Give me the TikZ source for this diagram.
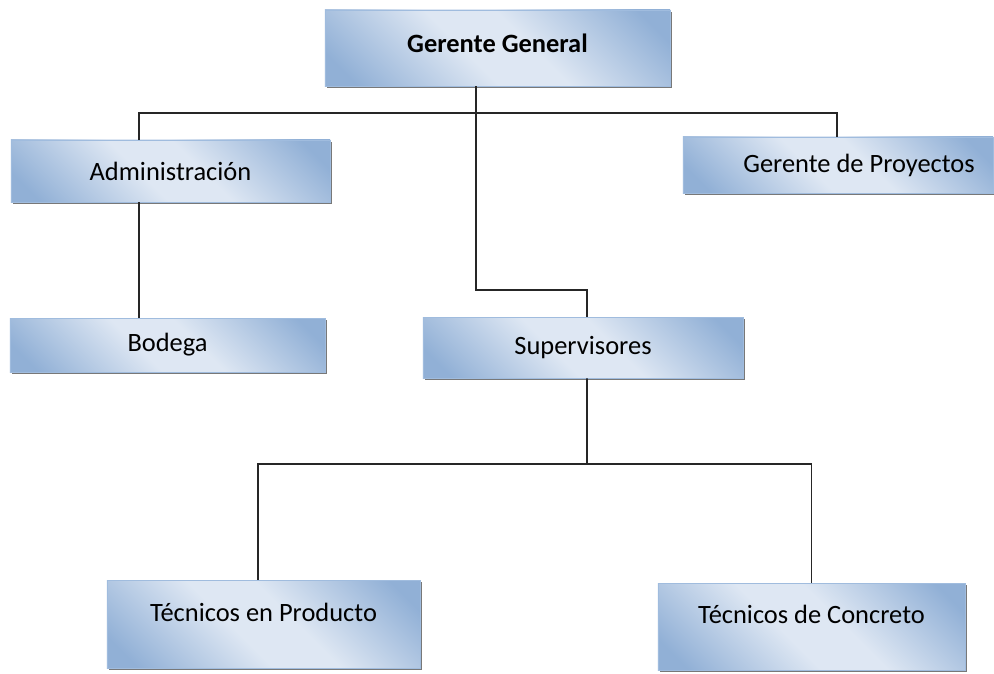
\documentclass[tikz,border=0pt]{standalone}
\usepackage{fontspec}
\setmainfont{Carlito}
\usepackage{tikz}
\usetikzlibrary{
    calc,
    positioning,
    shadows
}
\definecolor{boxdark}{RGB}{145,176,214}
\definecolor{boxlight}{RGB}{222,231,243}
\definecolor{boxline}{RGB}{160,188,222}
\definecolor{shadowgray}{RGB}{120,120,120}
\pgfdeclareverticalshading{unitshade}{100bp}{%
    color(0bp)=(boxdark); color(20bp)=(boxdark);
    color(44bp)=(boxlight); color(56bp)=(boxlight);
    color(80bp)=(boxdark); color(100bp)=(boxdark)}

\begin{document}
\begin{tikzpicture}[
    x=0.025cm, y=-0.025cm,
    unit/.style={draw=boxline, line width=0.6pt,
        shading=unitshade, shading angle=-45,
        drop shadow={shadow xshift=0.06cm, shadow yshift=-0.06cm,
            fill=shadowgray, opacity=1},
        font=\fontsize{18.8}{22}\selectfont, text=black,
        inner sep=0pt},
    link/.style={line width=1.3pt, black!85}
]
    % Canvas
    \useasboundingbox (0,0) rectangle (994,673);

    % === Units ===
    \node[unit, minimum width=8.625cm, minimum height=1.9cm, text depth=0.25cm,
        font=\fontsize{18.8}{22}\selectfont\bfseries] (gg) at (497.5,48) {Gerente General};
    \node[unit, minimum width=7.975cm, minimum height=1.55cm] (admin) at (170.5,171) {Administración};
    \node[unit, minimum width=7.75cm, minimum height=1.4cm] (proy) at (838,165) {\hspace*{1.05cm}Gerente de Proyectos};
    \node[unit, minimum width=7.875cm, minimum height=1.35cm] (bodega) at (167.5,345) {Bodega};
    \node[unit, minimum width=8cm, minimum height=1.525cm] (sup) at (583,347.5) {Supervisores};
    \node[unit, minimum width=7.825cm, minimum height=2.2cm, text depth=0.6cm] (prod) at (263.5,624) {Técnicos en Producto};
    \node[unit, minimum width=7.675cm, minimum height=2.175cm, text depth=0.6cm] (conc) at (811.5,626.5) {Técnicos de Concreto};

    % Branch points
    \coordinate (trunk) at (476,113);
    \coordinate (bend) at (476,290);
    \coordinate (tee) at (587,464);

    % === Connectors ===
    \draw[link] (gg.south -| trunk) -- (trunk);
    \draw[link] ([xshift=-0.79cm]admin.north) |- (trunk) -| ([xshift=-0.03cm]proy.north);
    \draw[link] (trunk) -- (bend) -| ([xshift=0.1cm]sup.north);
    \draw[link] ([xshift=-0.79cm]admin.south) -- ([xshift=-0.79cm]admin.south |- bodega.north);
    \draw[link] ([xshift=0.1cm]sup.south) -- (tee);
    \draw[link] ([xshift=-0.14cm]prod.north) |- (tee) -| (conc.north);
\end{tikzpicture}
\end{document}
